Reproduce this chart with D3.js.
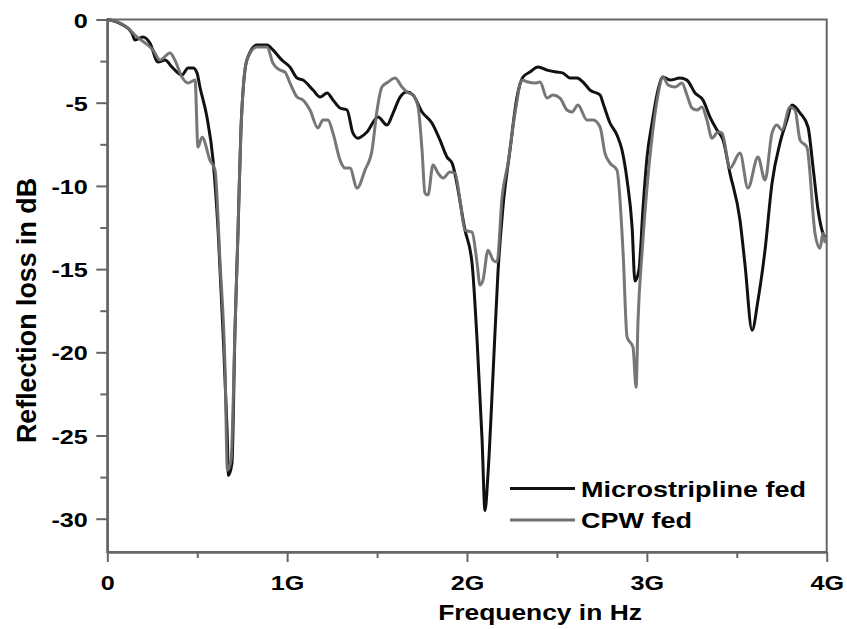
<!DOCTYPE html>
<html>
<head>
<meta charset="utf-8">
<script src="https://cdn.jsdelivr.net/npm/d3@7"></script>
<style>
  html, body { margin: 0; padding: 0; background: #fff; }
  svg { display: block; font-family: "Liberation Sans", Arial, sans-serif; font-weight: bold; }
</style>
</head>
<body>
<svg id="chart" width="847" height="629"></svg>
<script>
// ---- Data (frequency in GHz, reflection loss in dB) ----
const msFreq = [0.00,0.087,0.137,0.154,0.198,0.237,0.282,0.321,0.360,0.415,0.449,0.477,0.499,0.515,0.554,0.588,0.616,0.643,0.666,0.674,0.693,0.710,0.727,0.743,0.776,0.832,0.888,0.921,0.971,1.016,1.055,1.088,1.144,1.183,1.222,1.255,1.294,1.333,1.366,1.394,1.444,1.505,1.555,1.589,1.628,1.666,1.700,1.750,1.805,1.850,1.889,1.917,1.989,2.028,2.056,2.084,2.100,2.117,2.145,2.172,2.200,2.239,2.278,2.311,2.350,2.395,2.445,2.501,2.534,2.573,2.612,2.645,2.684,2.740,2.756,2.795,2.834,2.862,2.890,2.918,2.934,2.956,2.979,3.001,3.029,3.062,3.090,3.129,3.184,3.223,3.268,3.312,3.351,3.390,3.424,3.462,3.518,3.546,3.585,3.618,3.657,3.696,3.740,3.779,3.807,3.852,3.896,3.924,3.952,3.979,3.991];
const msLoss = [0,-0.33,-0.81,-1.23,-1.05,-1.41,-2.56,-2.44,-2.86,-3.34,-2.92,-2.92,-3.22,-4.06,-5.86,-8.45,-12.66,-18.67,-24.68,-27.39,-26.67,-18.67,-12.66,-6.64,-2.44,-1.53,-1.53,-1.83,-2.44,-2.86,-3.52,-3.64,-4.24,-4.66,-4.42,-4.84,-5.32,-5.44,-6.83,-7.13,-6.76,-5.86,-6.34,-5.62,-4.66,-4.36,-4.54,-5.56,-6.22,-7.25,-8.27,-8.63,-12.66,-14.64,-19.27,-25.29,-29.50,-27.27,-21.26,-15.24,-11.27,-7.85,-4.66,-3.46,-3.16,-2.86,-3.04,-3.16,-3.22,-3.52,-3.52,-3.76,-4.24,-4.54,-5.02,-6.22,-6.95,-7.85,-9.65,-12.48,-15.72,-15.06,-11.27,-8.27,-6.22,-4.24,-3.46,-3.64,-3.52,-3.64,-4.42,-4.84,-5.86,-6.64,-7.25,-9.23,-12.06,-14.76,-18.67,-16.87,-13.86,-9.83,-7.43,-6.04,-5.14,-5.62,-6.46,-8.87,-11.45,-12.84,-13.08];

const cpwFreq = [0.00,0.071,0.115,0.165,0.210,0.254,0.293,0.349,0.376,0.415,0.449,0.488,0.504,0.527,0.571,0.599,0.627,0.654,0.668,0.688,0.710,0.727,0.743,0.776,0.832,0.888,0.921,0.960,0.988,1.016,1.055,1.088,1.127,1.171,1.199,1.227,1.255,1.294,1.322,1.349,1.389,1.433,1.472,1.500,1.527,1.561,1.600,1.639,1.666,1.700,1.728,1.750,1.766,1.783,1.811,1.839,1.867,1.905,1.933,1.961,1.989,2.028,2.056,2.072,2.089,2.117,2.145,2.167,2.195,2.228,2.267,2.306,2.339,2.378,2.406,2.445,2.478,2.517,2.556,2.584,2.617,2.667,2.701,2.740,2.767,2.795,2.834,2.868,2.890,2.923,2.940,2.951,2.973,3.001,3.029,3.057,3.090,3.118,3.156,3.195,3.223,3.251,3.278,3.306,3.334,3.362,3.396,3.418,3.462,3.518,3.562,3.618,3.657,3.696,3.723,3.751,3.796,3.824,3.852,3.890,3.935,3.963,3.979,3.991];
const cpwLoss = [0,-0.21,-0.51,-1.05,-1.41,-1.83,-2.44,-2.01,-2.44,-3.46,-3.82,-3.64,-7.67,-7.07,-8.45,-9.05,-14.64,-20.66,-27.09,-26.49,-18.67,-12.66,-6.64,-2.44,-1.65,-1.65,-2.62,-3.04,-3.16,-3.82,-4.66,-4.84,-5.44,-6.52,-6.04,-6.04,-6.83,-8.45,-8.93,-8.93,-10.13,-9.05,-7.85,-5.44,-4.06,-3.76,-3.52,-4.06,-4.36,-4.54,-5.26,-7.85,-10.43,-10.55,-8.75,-9.23,-9.53,-9.17,-9.23,-10.85,-12.66,-12.78,-14.64,-15.96,-15.66,-13.86,-14.46,-14.58,-10.67,-8.63,-5.62,-3.64,-3.76,-3.82,-3.76,-4.72,-4.54,-4.72,-5.44,-5.56,-5.14,-6.04,-6.04,-6.46,-8.03,-8.63,-9.05,-14.04,-19.09,-19.69,-22.10,-18.07,-14.04,-10.07,-7.07,-4.84,-3.46,-3.94,-4.06,-3.82,-4.54,-5.32,-5.44,-5.26,-6.04,-7.13,-6.76,-6.83,-8.93,-8.03,-10.13,-8.27,-9.65,-6.83,-6.34,-6.64,-5.26,-5.44,-7.25,-7.67,-12.84,-13.74,-12.84,-13.44];

const seriesNames = ["Microstripline fed", "CPW fed"];
const xMajorTicks = [0, 1, 2, 3, 4];
const xTickLabels = ["0", "1G", "2G", "3G", "4G"];
const xMinorTicks = [0.5, 1.5, 2.5, 3.5];
const yMajorTicks = [0, -5, -10, -15, -20, -25, -30];
const yMinorTicks = [-2.5, -7.5, -12.5, -17.5, -22.5, -27.5];
const xTitle = "Frequency in Hz";
const yTitle = "Reflection loss in dB";

// ---- Layout ----
const L = 107.3, R = 826.7, T = 19.5, B = 552;
const AXIS = "#666666";
const COLORS = ["#111111", "#707070"];
const SX = 1.2; // horizontal stretch of text in the reference

const svg = d3.select("#chart");
const x = d3.scaleLinear().domain([0, 4]).range([L, R]);
const y = d3.scaleLinear().domain([0, -32]).range([T, B]);

// frame
svg.append("rect")
  .attr("x", L).attr("y", T).attr("width", R - L).attr("height", B - T)
  .attr("fill", "none").attr("stroke", AXIS).attr("stroke-width", 2);

// lines
const line = d3.line().x(d => x(d[0])).y(d => y(d[1])).curve(d3.curveMonotoneX);
const ms = msFreq.map((f, i) => [f, msLoss[i]]);
const cpw = cpwFreq.map((f, i) => [f, cpwLoss[i]]);
svg.append("path").datum(ms).attr("d", line)
  .attr("fill", "none").attr("stroke", COLORS[0]).attr("stroke-width", 3)
  .attr("stroke-linejoin", "round");
svg.append("path").datum(cpw).attr("d", line)
  .attr("fill", "none").attr("stroke", COLORS[1]).attr("stroke-width", 3)
  .attr("stroke-linejoin", "round").attr("stroke-opacity", 0.95);

// axes
function styleAxis(g) {
  g.select(".domain").attr("stroke", AXIS).attr("stroke-width", 2);
  g.selectAll(".tick line").attr("stroke", AXIS).attr("stroke-width", 2);
}
const yMinor = svg.append("g").attr("transform", `translate(${L},0)`)
  .call(d3.axisLeft(y).tickValues(yMinorTicks).tickSize(7).tickSizeOuter(0).tickFormat(""));
styleAxis(yMinor);
const yAxis = svg.append("g").attr("transform", `translate(${L},0)`)
  .call(d3.axisLeft(y).tickValues(yMajorTicks).tickSize(11).tickSizeOuter(0).tickFormat(d => String(d)));
styleAxis(yAxis);
yAxis.selectAll(".tick text")
  .attr("x", 0).attr("dy", "0.36em")
  .attr("transform", `translate(-19.5,0) scale(${SX},1)`)
  .attr("text-anchor", "end")
  .style("font-family", "'Liberation Sans', Arial, sans-serif")
  .style("font-weight", "bold").style("font-size", "21px").attr("fill", "#000");

const xMinor = svg.append("g").attr("transform", `translate(0,${B})`)
  .call(d3.axisBottom(x).tickValues(xMinorTicks).tickSize(6).tickSizeOuter(0).tickFormat(""));
styleAxis(xMinor);
const xAxis = svg.append("g").attr("transform", `translate(0,${B})`)
  .call(d3.axisBottom(x).tickValues(xMajorTicks).tickSize(10).tickSizeOuter(0)
    .tickFormat((d, i) => xTickLabels[i]));
styleAxis(xAxis);
xAxis.selectAll(".tick text")
  .attr("y", 0).attr("dy", 0)
  .attr("transform", `translate(0,38) scale(${SX},1)`)
  .attr("text-anchor", "middle")
  .style("font-family", "'Liberation Sans', Arial, sans-serif")
  .style("font-weight", "bold").style("font-size", "21px").attr("fill", "#000");

// axis titles
svg.append("text")
  .attr("transform", `translate(540,620) scale(${SX},1)`)
  .attr("text-anchor", "middle").style("font-size", "22px").attr("fill", "#000")
  .text(xTitle);
svg.append("text")
  .attr("transform", "translate(35.5,310.5) rotate(-90)")
  .attr("text-anchor", "middle").style("font-size", "26.8px").attr("fill", "#000")
  .text(yTitle);

// legend
const legendY = [488.5, 520];
const legendBase = [497, 528];
seriesNames.forEach((name, i) => {
  svg.append("line")
    .attr("x1", 510).attr("x2", 575).attr("y1", legendY[i]).attr("y2", legendY[i])
    .attr("stroke", COLORS[i]).attr("stroke-width", 3);
  svg.append("text")
    .attr("transform", `translate(581,${legendBase[i]}) scale(${SX},1)`)
    .style("font-size", "22.5px").attr("fill", "#000")
    .text(name);
});
</script>
</body>
</html>
